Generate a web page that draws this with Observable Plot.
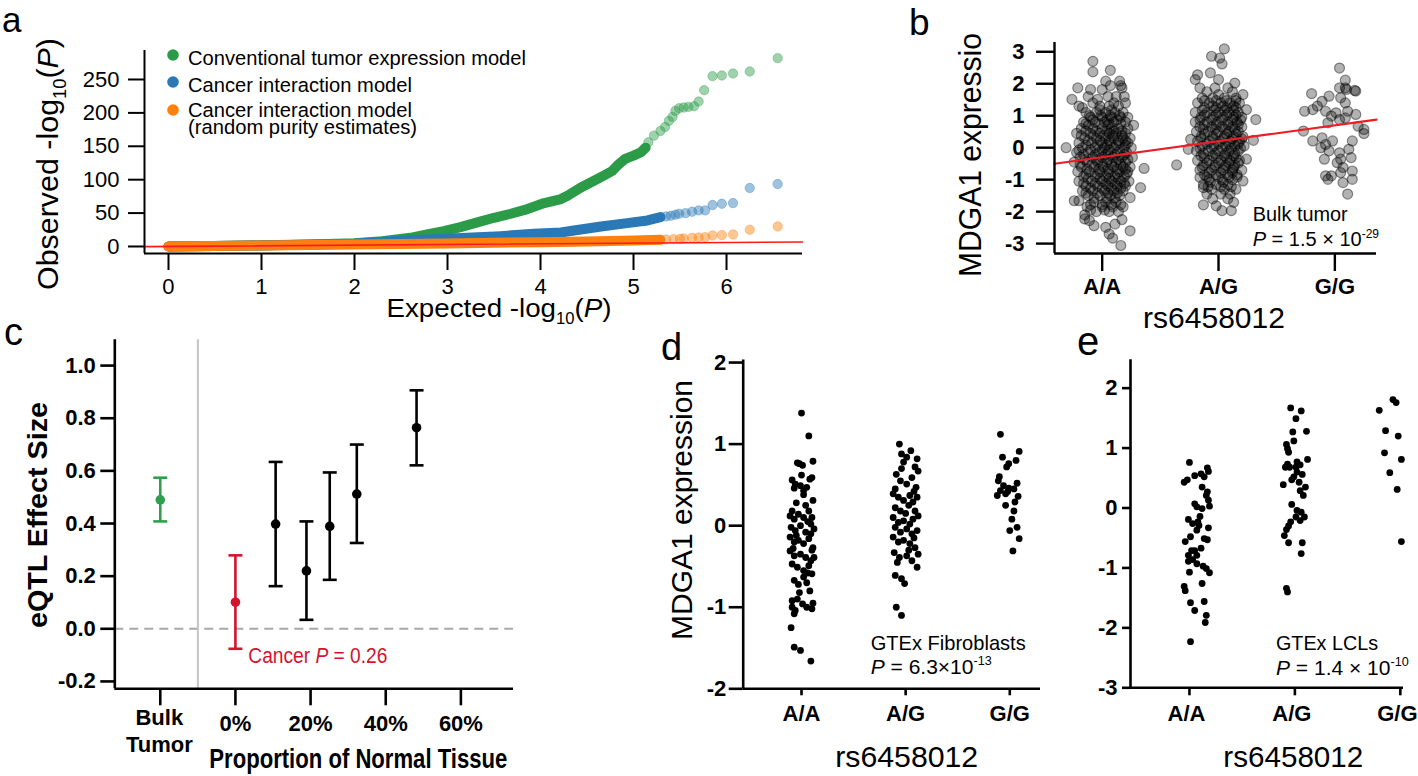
<!DOCTYPE html>
<html><head><meta charset="utf-8">
<script src="https://cdn.jsdelivr.net/npm/d3@7"></script>
<script src="https://cdn.jsdelivr.net/npm/@observablehq/plot@0.6"></script>
<style>
html,body{margin:0;padding:0;background:#fff;}
#fig{position:relative;width:1418px;height:776px;overflow:hidden;background:#fff;}
</style></head><body><div id="fig"></div>
<script>
// ---------------- DATA ----------------
// Panel a: QQ plot, [expected -log10 P, observed -log10 P]
const qqConvDense = [[0,0],[0.5,0.8],[1,1.8],[1.5,3],[2,5],[2.3,8],[2.6,13],[2.78,18],[2.96,23],[3.14,29],[3.32,36],[3.5,43],[3.68,49],[3.86,56],[4.04,65],[4.22,71],[4.29,76],[4.43,88],[4.57,98],[4.68,106],[4.77,113],[4.84,123],[4.91,131],[5.0,136],[5.08,141],[5.13,148]];
const qqConvTail = [[5.16,156],[5.22,166],[5.29,173],[5.34,179],[5.38,188],[5.42,194],[5.45,203],[5.49,207],[5.54,208],[5.59,209],[5.65,210],[5.70,217],[5.76,234],[5.85,255],[5.95,256],[6.07,259],[6.25,262],[6.55,282]];
const qqIntDense = [[0,0],[1,1.5],[2,4],[2.49,9],[2.85,11],[3.21,13],[3.57,15.5],[3.93,19],[4.22,21],[4.36,24],[4.65,30],[4.93,35],[5.15,39],[5.29,44]];
const qqIntTail = [[5.35,45],[5.40,46],[5.45,47.5],[5.49,49],[5.56,50],[5.63,52],[5.70,54],[5.77,54],[5.85,62],[5.95,64],[6.07,65],[6.25,87.5],[6.55,93.5]];
const qqRandDense = [[0,0],[1,1.5],[2,3],[3,4.5],[4,6.5],[4.5,7.5],[5,9],[5.29,10]];
const qqRandTail = [[5.35,10.5],[5.43,11],[5.5,11.5],[5.54,12],[5.63,13],[5.70,13.5],[5.77,14],[5.85,16.5],[5.95,17],[6.07,18],[6.25,25],[6.55,30]];
const qqLegend = ["Conventional tumor expression model","Cancer interaction model","Cancer interaction model","(random purity estimates)"];

// genotype labels
const genotypes = ["A/A","A/G","G/G"];

// Panel b: bulk tumor, rows of [expression, [jitter offsets]]
const bulkAA = [[2.70,[-0.08]],[2.42,[0.07]],[2.37,[-0.08]],[2.08,[0.03,0.15]],[1.94,[0.07,0.16]],[1.87,[-0.21,0.17]],[1.82,[0.0,-0.1]],[1.6,[-0.12,0.05,0.12,0.19]],[1.51,[-0.26,-0.04]],[1.4,[-0.08,0.1,0.2]],[1.3,[-0.2,-0.02,0.06,0.14]],[1.25,[-0.17]],[1.18,[-0.02,0.08]],[1.1,[-0.14,-0.05,0.03,0.11,0.18]],[1.0,[-0.11,-0.01,0.07,0.15]],[0.95,[-0.1,0.0,0.08,0.16,0.22]],[0.87,[-0.08,0.04,0.13]],[0.8,[-0.16,-0.06,0.02,0.1,0.2]],[0.75,[-0.14,-0.03,0.06,0.16]],[0.7,[0.27,-0.12,0.05]],[0.6,[-0.18,-0.08,0.0,0.08,0.14,0.22]],[0.52,[-0.14,-0.05,0.04,0.1,0.17]],[0.45,[-0.22,-0.1,-0.02,0.06,0.12,0.2]],[0.38,[-0.18,-0.08,0.01,0.09,0.17]],[0.3,[-0.15,-0.05,0.03,0.1,0.18,0.24]],[0.22,[-0.12,-0.02,0.06,0.14,0.2]],[0.15,[-0.2,-0.09,0.0,0.07,0.15,0.22]],[0.08,[-0.14,-0.04,0.04,0.12,0.2]],[0.0,[-0.31,-0.17,-0.06,0.02,0.1,0.19,0.25]],[-0.07,[-0.1,0.0,0.06,0.15,-0.2]],[-0.15,[-0.22,-0.12,-0.03,0.05,0.13,0.21]],[-0.22,[-0.16,-0.06,0.03,0.11,0.19]],[-0.3,[-0.19,-0.08,0.0,0.09,0.17,0.26]],[-0.37,[-0.15,-0.05,0.05,0.14,0.22]],[-0.45,[-0.24,-0.13,-0.04,0.04,0.12,0.2]],[-0.52,[-0.19,-0.09,0.0,0.08,0.16]],[-0.6,[-0.18,-0.07,0.01,0.1,0.18,0.24]],[-0.65,[0.36]],[-0.67,[-0.13,-0.03,0.05,0.13,0.2]],[-0.75,[-0.21,-0.11,-0.02,0.06,0.15,0.22]],[-0.82,[-0.14,-0.04,0.05,0.13,0.21]],[-0.9,[-0.16,-0.06,0.03,0.11,0.19]],[-0.97,[-0.12,-0.02,0.06,0.14]],[-1.05,[-0.2,-0.09,0.0,0.08,0.16,0.23]],[-1.12,[-0.16,-0.06,0.03,0.11,0.19]],[-1.2,[-0.14,-0.04,0.05,0.13,0.2]],[-1.25,[0.33]],[-1.27,[-0.1,0.0,0.08,0.16]],[-1.35,[-0.17,-0.08,0.02,0.1,0.18]],[-1.42,[-0.14,-0.04,0.05,0.13]],[-1.5,[-0.12,-0.02,0.07,0.15]],[-1.56,[0.24]],[-1.58,[-0.07,0.04,0.11]],[-1.66,[-0.2,-0.24]],[-1.7,[-0.07,0.03,0.12]],[-1.78,[-0.1,0.0,0.08,0.16]],[-1.85,[-0.13,0.0,0.09,0.18]],[-1.95,[-0.1,0.02]],[-2.0,[-0.05,0.06,0.14]],[-2.1,[-0.15]],[-2.23,[-0.15]],[-2.25,[0.17]],[-2.28,[-0.11]],[-2.39,[0.11]],[-2.44,[-0.07]],[-2.49,[0.03]],[-2.6,[0.24]],[-2.7,[0.06]],[-2.83,[0.09]],[-3.06,[0.16]]];
const bulkAG = [[3.09,[0.05]],[2.86,[-0.06]],[2.80,[0.01]],[2.62,[0.03]],[2.34,[-0.07]],[2.28,[-0.18]],[2.13,[-0.2,0.0]],[2.02,[0.14]],[1.87,[-0.16,-0.03,0.08]],[1.75,[-0.1,0.12]],[1.66,[0.21,0.0]],[1.55,[-0.14,-0.05,0.05,0.15]],[1.47,[-0.12,-0.02,0.07,0.15]],[1.4,[-0.18,-0.08,0.02,0.1,0.18]],[1.3,[-0.05,0.04,0.13]],[1.25,[-0.12,-0.02,0.07,0.15]],[1.19,[0.24]],[1.17,[-0.14,-0.04,0.05,0.13]],[1.1,[-0.2,-0.1,0.0,0.09,0.17]],[1.02,[-0.12,-0.02,0.07,0.15]],[0.95,[-0.15,-0.05,0.04,0.13,0.2]],[0.88,[0.32]],[0.87,[-0.16,-0.06,0.03,0.12,0.19]],[0.8,[-0.2,-0.1,-0.01,0.08,0.16]],[0.72,[-0.12,-0.02,0.08,0.17]],[0.65,[-0.16,-0.06,0.03,0.12,0.2]],[0.58,[-0.13,-0.03,0.06,0.14]],[0.5,[-0.19,-0.09,0.0,0.09,0.17]],[0.43,[-0.12,-0.02,0.07,0.15]],[0.35,[-0.15,-0.05,0.05,0.13,0.21]],[0.28,[-0.15,-0.05,0.04,0.12,0.2]],[0.26,[-0.24]],[0.23,[0.30]],[0.2,[-0.18,-0.08,0.01,0.1,0.18]],[0.12,[-0.1,0.0,0.09,0.17]],[0.05,[-0.14,-0.04,0.06,0.14,0.22]],[-0.02,[-0.16,-0.06,0.03,0.11,0.19]],[-0.05,[-0.26]],[-0.1,[-0.19,-0.09,0.0,0.09,0.17]],[-0.18,[-0.13,-0.03,0.06,0.14]],[-0.25,[-0.15,-0.05,0.05,0.13]],[-0.32,[-0.12,-0.02,0.07,0.15]],[-0.36,[0.24]],[-0.4,[-0.18,-0.08,0.02,0.1,0.18]],[-0.48,[-0.1,0.0,0.09,0.17]],[-0.54,[-0.36]],[-0.55,[-0.13,-0.03,0.06,0.14]],[-0.62,[-0.14,-0.04,0.05,0.13]],[-0.7,[-0.16,-0.06,0.04,0.12,0.2]],[-0.78,[-0.08,0.02,0.12]],[-0.85,[-0.12,-0.02,0.08,0.16]],[-0.92,[-0.1,0.0,0.09,0.16]],[-0.93,[-0.16]],[-1.0,[-0.08,0.03,0.12]],[-1.04,[0.21]],[-1.08,[-0.07,0.04]],[-1.15,[-0.13,-0.02,0.08]],[-1.22,[-0.09,0.02,0.11]],[-1.25,[-0.13]],[-1.3,[-0.06,0.05,0.15]],[-1.45,[-0.1,0.02,0.1]],[-1.6,[-0.05,0.08]],[-1.71,[0.13]],[-1.79,[-0.13]],[-1.82,[-0.02]],[-1.97,[0.03,0.11]]];
// G/G: [jitter, expression]
const bulkGG = [[0.04,2.49],[0.09,2.11],[0.09,1.87],[0.18,1.77],[-0.20,1.69],[-0.05,1.61],[-0.11,1.45],[0.05,1.56],[0.09,1.40],[0.11,1.14],[0.09,0.93],[-0.26,1.14],[-0.19,1.19],[-0.15,1.30],[-0.08,1.14],[-0.03,0.99],[-0.06,0.78],[0.01,1.09],[0.04,0.88],[0.18,1.04],[0.20,0.67],[0.25,0.57],[0.25,0.44],[-0.27,0.52],[-0.19,0.21],[-0.11,0.31],[-0.08,0.10],[-0.02,0.21],[-0.12,0.0],[-0.05,-0.10],[-0.09,-0.36],[0.05,-0.36],[0.02,-0.47],[0.07,-0.62],[0.14,-0.31],[0.15,-0.73],[0.04,-0.16],[0.15,0.21],[0.12,-0.05],[-0.08,-0.88],[-0.03,-0.88],[0.05,-0.78],[0.07,-1.09],[0.15,-0.99],[0.11,-1.45],[-0.06,-0.99],[0.17,1.79],[0.10,1.82],[0.04,1.87]];
const bulkFit = {intercept: -0.796, slope: 0.498};

// Panel c: eQTL effect sizes
const cLabels = ["Bulk Tumor","0%","11%","19%","25%","32%","48%"];
const cKind = ["bulk","cancer","normal","normal","normal","normal","normal"];
const cProportion = [-20, 0, 10.7, 18.9, 25.1, 32.3, 48.2];
const cEffect = [0.49, 0.101, 0.398, 0.22, 0.389, 0.512, 0.764];
const cLower = [0.408, -0.076, 0.162, 0.034, 0.186, 0.326, 0.621];
const cUpper = [0.574, 0.279, 0.634, 0.408, 0.594, 0.70, 0.906];
const cDivider = -10;
const cTicks = [-20, 0, 20, 40, 60];

// Panel d: GTEx fibroblasts, [jitter, expression]
const fibAA = [[0,1.38],[0.07,1.10],[-0.02,0.76],[0.01,0.74],[-0.04,0.77],[0.11,0.79],[-0.09,0.56],[-0.06,0.51],[-0.07,0.46],[-0.01,0.49],[0.02,0.43],[0.02,0.38],[0.08,0.57],[0.10,0.59],[0.05,0.47],[0.11,0.31],[-0.09,0.18],[-0.11,0.12],[-0.07,0.08],[-0.03,0.14],[0.02,0.10],[0.07,0.18],[0.10,0.10],[0.09,0.02],[-0.10,-0.02],[-0.06,-0.06],[-0.01,0.0],[0.04,-0.08],[0.09,-0.10],[0.12,-0.04],[-0.11,-0.14],[-0.07,-0.20],[-0.03,-0.18],[0.02,-0.22],[0.07,-0.16],[0.11,-0.27],[-0.11,-0.31],[-0.07,-0.37],[-0.01,-0.35],[0.04,-0.39],[0.09,-0.43],[0.12,-0.39],[-0.09,-0.47],[-0.04,-0.51],[0.02,-0.55],[0.07,-0.49],[0.10,-0.59],[-0.07,-0.67],[-0.03,-0.72],[0.05,-0.70],[0.02,-0.63],[-0.09,-0.92],[-0.04,-0.90],[0.01,-0.96],[0.05,-1.00],[0.10,-1.02],[-0.06,-1.04],[-0.07,-1.08],[-0.10,-1.25],[-0.07,-1.49],[-0.01,-1.53],[0.09,-1.66],[-0.05,0.28],[0.04,0.25],[-0.08,-0.28],[0.06,-0.58],[-0.02,-0.82],[0.08,-0.80],[-0.09,-1.0],[0.11,-0.95],[0.0,0.62],[0.06,0.05],[-0.05,-0.12],[0.10,-0.30]];
const fibAG = [[-0.06,1.00],[0.05,0.92],[-0.04,0.88],[0.01,0.84],[-0.02,0.78],[0.11,0.82],[0.09,0.72],[0.12,0.67],[-0.09,0.63],[-0.05,0.55],[0.01,0.51],[0.06,0.59],[0.10,0.47],[-0.12,0.39],[-0.07,0.35],[-0.02,0.31],[0.04,0.37],[0.07,0.29],[0.11,0.35],[-0.10,0.22],[-0.05,0.18],[0.03,0.25],[0.09,0.18],[0.12,0.12],[-0.12,0.10],[-0.07,0.04],[-0.02,0.06],[0.04,0.02],[0.07,0.08],[-0.10,-0.02],[-0.05,-0.08],[0.01,-0.04],[0.06,-0.10],[0.11,-0.06],[-0.12,-0.14],[-0.07,-0.20],[-0.02,-0.18],[0.04,-0.22],[0.09,-0.27],[-0.11,-0.33],[-0.06,-0.39],[0.01,-0.37],[0.06,-0.43],[0.11,-0.51],[-0.10,-0.61],[-0.04,-0.65],[-0.01,-0.71],[-0.09,-1.00],[-0.04,-1.10],[0.08,0.42],[-0.10,0.45],[0.03,-0.30],[-0.04,0.70],[0.12,-0.35],[0.0,0.15],[-0.08,-0.45],[0.08,-0.15]];
const fibGG = [[-0.09,1.12],[0.09,0.91],[-0.07,0.84],[-0.01,0.76],[0.06,0.80],[-0.03,0.72],[-0.11,0.55],[-0.06,0.49],[-0.01,0.46],[-0.09,0.43],[-0.12,0.37],[-0.04,0.39],[0.04,0.45],[0.08,0.36],[0.05,0.29],[-0.04,0.25],[0.04,0.18],[0.02,0.08],[0.07,-0.02],[0.0,-0.06],[0.09,-0.16],[0.03,-0.31],[-0.10,0.60],[-0.02,0.42],[0.07,0.52]];

// Panel e: GTEx LCLs, [jitter, expression]
const lclAA = [[0,0.76],[-0.05,0.43],[-0.02,0.47],[0.05,0.54],[0.11,0.57],[0.14,0.52],[0.17,0.67],[0.18,0.61],[0.12,0.35],[0.17,0.27],[0.16,0.21],[0.05,0.07],[0.07,0.02],[0.19,0.03],[0.12,-0.01],[0.10,-0.14],[-0.01,-0.19],[0.08,-0.23],[0.18,-0.33],[0.07,-0.37],[0.09,-0.29],[0.01,-0.48],[-0.04,-0.56],[0.17,-0.53],[0.14,-0.51],[0.11,-0.67],[0.02,-0.71],[0.05,-0.71],[-0.01,-0.79],[0.07,-0.79],[0.03,-0.86],[0.07,-0.93],[0.13,-0.97],[0.16,-1.01],[0.19,-1.08],[0,-1.07],[0.12,-1.26],[-0.05,-1.31],[-0.04,-1.38],[0.01,-1.58],[0.14,-1.56],[0.05,-1.71],[0.16,-1.79],[0.15,-1.91],[0.01,-2.23],[-0.01,-0.89],[0.03,-0.26],[0.18,0.13]];
const lclAG = [[-0.04,1.67],[0.06,1.62],[0.01,1.49],[-0.02,1.27],[0.11,1.28],[-0.01,1.12],[-0.08,1.06],[-0.07,0.99],[-0.06,0.93],[0.12,0.81],[0.02,0.77],[-0.07,0.73],[-0.05,0.68],[0.01,0.68],[0.05,0.72],[-0.09,0.68],[0.02,0.60],[0.07,0.56],[-0.01,0.52],[-0.03,0.47],[-0.11,0.39],[0.04,0.43],[0.10,0.35],[0.05,0.29],[0.08,0.21],[-0.03,0.06],[0.02,-0.04],[0.06,-0.07],[0.09,-0.15],[0.05,-0.21],[-0.04,-0.23],[-0.06,-0.30],[-0.08,-0.36],[-0.10,-0.46],[-0.06,-0.58],[0.07,-0.58],[0.06,-0.76],[-0.08,-1.34],[-0.07,-1.40],[0.01,-0.15]];
const lclGG = [[-0.20,1.63],[-0.07,1.81],[-0.04,1.76],[-0.14,1.29],[-0.02,1.20],[-0.15,0.92],[0.01,0.81],[-0.10,0.59],[-0.03,0.31],[0.01,-0.56]];

// ---------------- DRAWING ----------------
const FONT = '"Liberation Sans", Arial, Helvetica, sans-serif';
const W = 1418, H = 776;
const GREEN = "#2b9b48", BLUE = "#2a79b6", ORANGE = "#ff800e", RED = "#ff1a1a";
const C_GREEN = "#2e9f4c", C_RED = "#d4132e";
const fig = document.getElementById("fig");
function layer(node){const d=document.createElement("div");d.style.position="absolute";d.style.left="0";d.style.top="0";d.appendChild(node);fig.appendChild(d);}
function framed(f, o){
  return Plot.plot({width:W,height:H,marginLeft:f.l,marginRight:W-f.r,marginTop:f.t,marginBottom:H-f.b,
    style:{background:"transparent",fontFamily:FONT,fontSize:(o.fs||22)+"px",fontWeight:o.fw||"normal",overflow:"visible"},
    x:{domain:o.xd}, y:{domain:o.yd}, color:{type:"identity"}, marks:o.marks});
}
function frameAxes(o){
  const m = [
    Plot.ruleX([o.xd[0]],{y1:o.yd[0],y2:o.yd[1],stroke:"#000",strokeWidth:o.sw}),
    Plot.ruleY([o.yd[0]],{x1:o.xd[0],x2:o.xd[1],stroke:"#000",strokeWidth:o.sw}),
    Plot.axisY({ticks:o.yt, tickFormat:o.yf, tickSize:o.yts, tickPadding:o.ytp, strokeWidth:o.sw, label:null, fontSize:o.fs, fontWeight:o.fw})
  ];
  if (o.xdx) {
    m.push(Plot.axisX({ticks:o.xt, tickFormat:()=>"", tickSize:o.xts, strokeWidth:o.sw, label:null}));
    m.push(Plot.axisX({ticks:o.xt, tickFormat:o.xf, tickSize:0, tickPadding:o.xts+o.xtp, dx:o.xdx, label:null, fontSize:o.fs, fontWeight:o.fw}));
  } else {
    m.push(Plot.axisX({ticks:o.xt, tickFormat:o.xf, tickSize:o.xts, tickPadding:o.xtp, strokeWidth:o.sw, label:null, fontSize:o.fs, fontWeight:o.fw}));
  }
  return m;
}
const px = d => d[0], py = d => d[1];

// ---- panel a ----
{
  const f = {l:144, r:802, t:50, b:253};
  const xd = [-0.258, 6.817], yd = [-10.5, 293.4];
  const series = [[qqConvDense,qqConvTail,GREEN],[qqIntDense,qqIntTail,BLUE],[qqRandDense,qqRandTail,ORANGE]];
  const marks = [];
  for (const [dense, tail, col] of series) {
    marks.push(Plot.line(dense,{x:px,y:py,stroke:col,strokeWidth:10,strokeLinecap:"round",strokeLinejoin:"round"}));
    marks.push(Plot.dot(tail,{x:px,y:py,r:4.7,fill:col,fillOpacity:0.45,stroke:col,strokeOpacity:0.35,strokeWidth:1}));
  }
  marks.push(Plot.line(xd,{x:d=>d,y:d=>d,stroke:RED,strokeWidth:1.6}));
  marks.push(...frameAxes({xd,yd,sw:2,yt:[0,50,100,150,200,250],xt:[0,1,2,3,4,5,6],yf:d=>`${d}`,xf:d=>`${d}`,yts:16,ytp:9,xts:17,xtp:8,fs:22,fw:"normal"}));
  layer(framed(f,{xd,yd,marks,fs:22}));
}
// ---- panel b ----
{
  const f = {l:1054, r:1376, t:42, b:253};
  const xd = [0.59, 3.358], yd = [-3.31, 3.29];
  const pts = [];
  bulkAA.forEach(([v,js])=>js.forEach(j=>pts.push({x:1+j,v})));
  bulkAG.forEach(([v,js])=>js.forEach(j=>pts.push({x:2+j,v})));
  bulkGG.forEach(([j,v])=>pts.push({x:3+j,v}));
  const marks = [
    Plot.dot(pts,{x:"x",y:"v",r:5,fill:"#000",fillOpacity:0.3,stroke:"#000",strokeOpacity:0.42,strokeWidth:1.2}),
    Plot.line(xd,{x:d=>d,y:d=>bulkFit.intercept+bulkFit.slope*d,stroke:"#ee1c24",strokeWidth:2.2}),
    ...frameAxes({xd,yd,sw:2.4,yt:[-3,-2,-1,0,1,2,3],xt:[1,2,3],yf:d=>`${d}`,xf:i=>genotypes[i-1],yts:18,ytp:12,xts:18,xtp:7,fs:22,fw:"bold"})
  ];
  layer(framed(f,{xd,yd,marks,fs:22,fw:"bold"}));
}
// ---- panel c ----
{
  const f = {l:114.3, r:513, t:339.3, b:688.3};
  const xd = [-32.1, 74.0], yd = [-0.228, 1.098];
  const colorOf = {bulk:C_GREEN, cancer:C_RED, normal:"#000"};
  const rows = cLabels.map((lab,i)=>({lab,x:cProportion[i],est:cEffect[i],lo:cLower[i],hi:cUpper[i],col:colorOf[cKind[i]]}));
  const cap = {draw(ctx,size){const h=Math.sqrt(size/Math.PI);ctx.moveTo(-h,0);ctx.lineTo(h,0);}};
  const marks = [
    Plot.ruleY([0],{x1:xd[0],x2:xd[1],stroke:"#a8a8a8",strokeWidth:2,strokeDasharray:"9,6"}),
    Plot.ruleX([cDivider],{y1:yd[0],y2:yd[1],stroke:"#c4c4c4",strokeWidth:2}),
    Plot.ruleX(rows,{x:"x",y1:"lo",y2:"hi",stroke:"col",strokeWidth:2.6}),
    Plot.dot(rows,{x:"x",y:"hi",symbol:cap,r:7,stroke:"col",strokeWidth:2.6,fill:"none"}),
    Plot.dot(rows,{x:"x",y:"lo",symbol:cap,r:7,stroke:"col",strokeWidth:2.6,fill:"none"}),
    Plot.dot(rows,{x:"x",y:"est",r:4.8,fill:"col"}),
    ...frameAxes({xd,yd,sw:2.6,yt:[-0.2,0,0.2,0.4,0.6,0.8,1.0],xt:cTicks,yf:d=>d.toFixed(1),xf:d=>d<0?"":`${d}%`,yts:14,ytp:5,xts:17,xtp:10,fs:22,fw:"bold"})
  ];
  layer(framed(f,{xd,yd,marks,fs:22,fw:"bold"}));
}
// ---- panel d / e ----
function stripPanel(f, xd, yd, groups, yt, ticks) {
  const pts = [];
  groups.forEach((g,gi)=>g.forEach(([j,v])=>pts.push({x:gi+1+j,v})));
  const marks = [
    Plot.dot(pts,{x:"x",y:"v",r:3.4,fill:"#000"}),
    ...frameAxes({xd,yd,sw:2.6,yt,xt:[1,2,3],yf:d=>`${d}`,xf:i=>genotypes[i-1],yts:ticks.y,ytp:ticks.yp,xts:ticks.x,xtp:10,xdx:ticks.dx,fs:22,fw:"bold"})
  ];
  layer(framed(f,{xd,yd,marks,fs:22,fw:"bold"}));
}
stripPanel({l:742.7,r:1040,t:359.6,b:688.3},[0.44,3.295],[-2,2.03],[fibAA,fibAG,fibGG],[-2,-1,0,1,2],{y:14,yp:3,x:7});
stripPanel({l:1130,r:1403,t:359.3,b:687.3},[0.441,3.03],[-3,2.473],[lclAA,lclAG,lclGG],[-3,-2,-1,0,1,2],{y:8,yp:5,x:8,dx:-3});

// ---------------- TEXT OVERLAY ----------------
const overlay = d3.create("svg").attr("width",W).attr("height",H).style("font-family",FONT).style("overflow","visible");
function txt(x,y,parts,o={}) {
  const g = overlay.append("g").attr("transform",`translate(${x},${y})`+(o.rotate?` rotate(${o.rotate})`:""));
  const t = g.append("text").attr("text-anchor",o.anchor||"start").attr("font-size",o.size).attr("font-weight",o.weight||"normal").attr("fill",o.fill||"#000");
  if (o.len) t.attr("textLength",o.len).attr("lengthAdjust","spacingAndGlyphs");
  let shift = 0;
  for (const p of (typeof parts==="string"?[[parts]]:parts)) {
    const [s, st={}] = p;
    const ts = t.append("tspan").text(s);
    const target = st.sup ? -o.size*0.42 : st.sub ? o.size*0.28 : 0;
    if (target!==shift) { ts.attr("dy", target-shift); shift = target; }
    if (st.sup||st.sub) ts.attr("font-size", o.size*0.6);
    if (st.italic) ts.attr("font-style","italic");
  }
}
// panel letters
txt(2,32,"a",{size:35});
txt(909,35,"b",{size:37});
txt(4,345,"c",{size:38});
txt(661,360,"d",{size:38});
txt(1077,355,"e",{size:40});
// panel a
txt(58,164,[["Observed -log"],["10",{sub:true}],["("],["P",{italic:true}],[")"]],{size:30,rotate:-90,anchor:"middle",len:252});
txt(499,317,[["Expected -log"],["10",{sub:true}],["("],["P",{italic:true}],[")"]],{size:26,anchor:"middle",len:225});
[[GREEN,55],[BLUE,82],[ORANGE,110]].forEach(([c,y])=>overlay.append("circle").attr("cx",173).attr("cy",y).attr("r",5.8).attr("fill",c));
txt(188,65,qqLegend[0],{size:20.5,len:338});
txt(188,91.7,qqLegend[1],{size:20.5,len:224});
txt(188,116.5,qqLegend[2],{size:20.5,len:224});
txt(188,133.5,qqLegend[3],{size:20.5,len:229});
// panel b
txt(981,155,"MDGA1 expressio",{size:31,rotate:-90,anchor:"middle",len:244});
txt(1214,328,"rs6458012",{size:30,anchor:"middle",len:142});
txt(1252.7,220.7,"Bulk tumor",{size:20,len:95});
txt(1252.7,246,[["P",{italic:true}],[" = 1.5 × 10"],["-29",{sup:true}]],{size:20});
// panel c
txt(46.7,515,"eQTL Effect Size",{size:27,weight:"bold",rotate:-90,anchor:"middle",len:226});
txt(358.3,768.3,"Proportion of Normal Tissue",{size:27,weight:"bold",anchor:"middle",len:298});
txt(159.3,725,"Bulk",{size:22,weight:"bold",anchor:"middle"});
txt(159.3,751.7,"Tumor",{size:22,weight:"bold",anchor:"middle"});
txt(248.3,662.7,[["Cancer "],["P",{italic:true}],[" = 0.26"]],{size:22,fill:C_RED,len:139});
// panel d
txt(692,510,"MDGA1 expression",{size:30,rotate:-90,anchor:"middle",len:260});
txt(906.7,766.7,"rs6458012",{size:30,anchor:"middle",len:143});
txt(870.7,650,"GTEx Fibroblasts",{size:21,len:155});
txt(870.7,674,[["P",{italic:true}],[" = 6.3×10"],["-13",{sup:true}]],{size:21});
// panel e
txt(1293.3,766.7,"rs6458012",{size:30,anchor:"middle",len:140});
txt(1276,650,"GTEx LCLs",{size:21,len:102});
txt(1276,675,[["P",{italic:true}],[" = 1.4 × 10"],["-10",{sup:true}]],{size:21});
layer(overlay.node());
</script></body></html>
